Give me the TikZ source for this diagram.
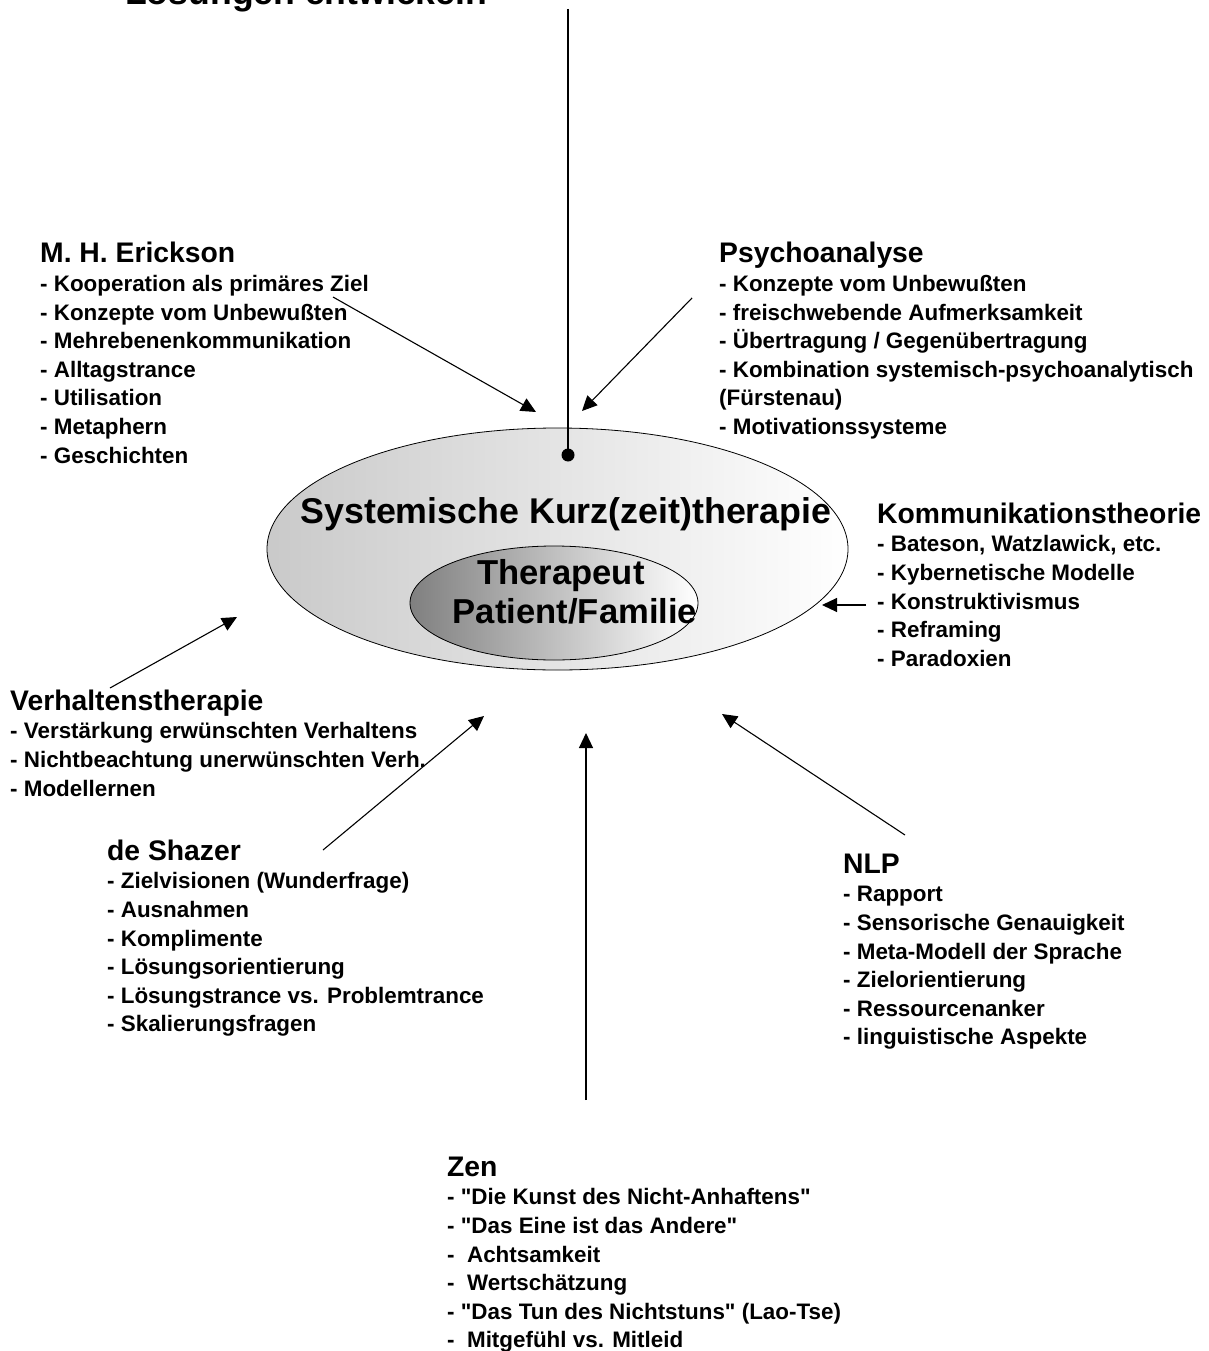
\documentclass[tikz,border=0pt]{standalone}
\usepackage{fontspec}
\setmainfont{Liberation Sans}[Ligatures=TeXOff]
\usetikzlibrary{arrows.meta,shapes.geometric}
\newcommand\textblock[5]{%
  \node[head] (#1) at (#2,#3) {#4};
  \foreach \t [count=\i] in {#5} {\node[item] (#1-\i) at (#2,{#3+28.8+(\i-1)*28.6}) {\t};}
}
\begin{document}
\begin{tikzpicture}[x=1pt,y=-1pt,
  head/.style={anchor=base west, inner sep=0pt, font=\fontsize{28.3}{30}\selectfont\bfseries},
  item/.style={anchor=base west, inner sep=0pt, font=\fontsize{22.4}{24}\selectfont\bfseries},
  big/.style={anchor=base, inner sep=0pt, font=\fontsize{35.8}{40}\selectfont\bfseries},
  mid/.style={anchor=base, inner sep=0pt, font=\fontsize{34.6}{38}\selectfont\bfseries},
  arr/.style={line width=1.1pt, -{Triangle[length=15pt,width=14pt]}}]
\useasboundingbox (0,0) rectangle (1209,1351);
% ellipses
\node[ellipse, draw, line width=0.8pt, minimum width=581pt, minimum height=242pt,
      left color=black!21, right color=white, inner sep=0pt] (outer) at (557.5,549) {};
\node[ellipse, draw, line width=0.8pt, minimum width=288pt, minimum height=114pt,
      left color=black!50, right color=white, inner sep=0pt] (inner) at (554,603) {};
\node[big] (sys) at (566,523) {Systemische Kurz(zeit)therapie};
\node[mid] (ther) at (561,584) {Therapeut};
\node[mid] (pat) at (575,623) {Patient/Familie};
% top
\node[anchor=base west, inner sep=0pt, font=\fontsize{35.6}{40}\selectfont\bfseries] (top) at (125,5) {Lösungen entwickeln};
\coordinate (topend) at (568,9);
\node[circle, fill=black, inner sep=0pt, minimum size=13pt] (dot) at (568,455) {};
\draw[line width=1.1pt] (topend) -- (dot.center);
% text blocks
\textblock{eri}{40}{262.7}{M. H. Erickson}{- Kooperation als primäres Ziel, - Konzepte vom Unbewußten, - Mehrebenenkommunikation, - Alltagstrance, - Utilisation, - Metaphern, - Geschichten}
\textblock{psy}{719}{262.7}{Psychoanalyse}{- Konzepte vom Unbewußten, - freischwebende Aufmerksamkeit, - Übertragung / Gegenübertragung, - Kombination systemisch-psychoanalytisch, (Fürstenau), - Motivationssysteme}
\textblock{kom}{877}{523}{Kommunikationstheorie}{{- Bateson, Watzlawick, etc.}, - Kybernetische Modelle, - Konstruktivismus, - Reframing, - Paradoxien}
\textblock{ver}{10}{710}{Verhaltenstherapie}{- Verstärkung erwünschten Verhaltens, - Nichtbeachtung unerwünschten Verh., - Modellernen}
\textblock{sha}{107}{860}{de Shazer}{- Zielvisionen (Wunderfrage), - Ausnahmen, - Komplimente, - Lösungsorientierung, - Lösungstrance vs. Problemtrance, - Skalierungsfragen}
\textblock{nlp}{843}{873}{NLP}{- Rapport, - Sensorische Genauigkeit, - Meta-Modell der Sprache, - Zielorientierung, - Ressourcenanker, - linguistische Aspekte}
\textblock{zen}{447}{1176}{Zen}{- "Die Kunst des Nicht-Anhaftens", - "Das Eine ist das Andere", -~ Achtsamkeit, -~ Wertschätzung, - "Das Tun des Nichtstuns" (Lao-Tse), -~ Mitgefühl vs. Mitleid}
% arrows
\coordinate (a1s) at (333,297);  \coordinate (a1e) at (536,412);
\coordinate (a2s) at (692,298);  \coordinate (a2e) at (582,411);
\coordinate (a3s) at (866,605);  \coordinate (a3e) at (822,605);
\coordinate (a4s) at (110,688);  \coordinate (a4e) at (237,617);
\coordinate (a5s) at (323,850);  \coordinate (a5e) at (484,716);
\coordinate (a6s) at (586,1100); \coordinate (a6e) at (586,733);
\coordinate (a7s) at (905,835);  \coordinate (a7e) at (722,714);
\draw[arr] (a1s) -- (a1e);
\draw[arr] (a2s) -- (a2e);
\draw[arr] (a3s) -- (a3e);
\draw[arr] (a4s) -- (a4e);
\draw[arr] (a5s) -- (a5e);
\draw[arr] (a6s) -- (a6e);
\draw[arr] (a7s) -- (a7e);
\end{tikzpicture}
\end{document}
